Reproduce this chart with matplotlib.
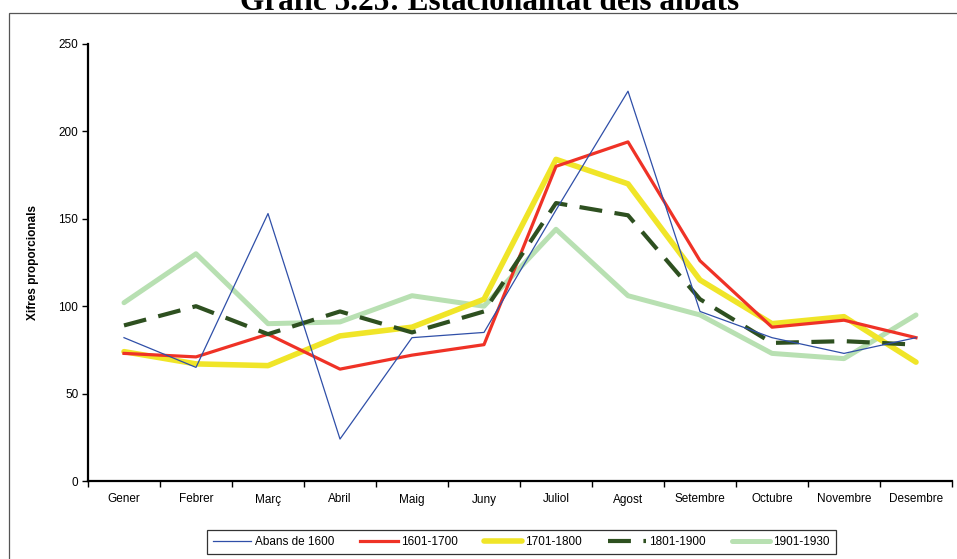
import matplotlib
matplotlib.use("Agg")
import matplotlib.pyplot as plt
from matplotlib.patches import Rectangle

months = ["Gener", "Febrer", "Març", "Abril", "Maig", "Juny", "Juliol",
          "Agost", "Setembre", "Octubre", "Novembre", "Desembre"]

abans_1600 = [82, 65, 153, 24, 82, 85, 155, 223, 97, 82, 73, 82]
s1601_1700 = [73, 71, 84, 64, 72, 78, 180, 194, 126, 88, 92, 82]
s1701_1800 = [74, 67, 66, 83, 88, 104, 184, 170, 115, 90, 94, 68]
s1801_1900 = [89, 100, 84, 97, 85, 97, 159, 152, 104, 79, 80, 78]
s1901_1930 = [102, 130, 90, 91, 106, 100, 144, 106, 95, 73, 70, 95]

y_ticks = [0, 50, 100, 150, 200, 250]

plt.rcParams['font.family'] = ['Liberation Sans', 'DejaVu Sans']

fig = plt.figure(figsize=(9.57, 5.59), dpi=100)

# outer chart frame
fig.patches.append(Rectangle((9 / 957, -0.1), 1.2, 1.1 - 13 / 559,
                             transform=fig.transFigure, fill=False,
                             edgecolor="#555555", linewidth=0.9, zorder=0))

fig.text(490 / 957, 1 - 10 / 559, "Gràfic 5.25: Estacionalitat dels albats",
         ha="center", va="baseline", fontsize=22.5, fontweight="bold",
         family=["Liberation Serif", "DejaVu Serif"])

ax = fig.add_axes([88 / 957, 1 - 481 / 559, 864 / 957, 437 / 559])
x = list(range(len(months)))

ax.plot(x, abans_1600, color="#2f4fa8", lw=0.9, label="Abans de 1600", zorder=5)
ax.plot(x, s1601_1700, color="#ef3226", lw=2.3, label="1601-1700", zorder=3)
ax.plot(x, s1701_1800, color="#f0e528", lw=4.0, label="1701-1800",
        solid_capstyle="round", zorder=2)
ax.plot(x, s1801_1900, color="#2e5020", lw=3.0, label="1801-1900",
        dashes=(5.5, 3.0), zorder=4)
ax.plot(x, s1901_1930, color="#b8e0b2", lw=3.6, label="1901-1930",
        solid_capstyle="round", zorder=1)

ax.set_xlim(-0.5, len(months) - 0.5)
ax.set_ylim(0, 250)
ax.set_yticks(y_ticks)
ax.set_xticks(x)
ax.set_xticklabels(months, fontsize=8.5)
ax.set_xticks([i - 0.5 for i in range(len(months) + 1)], minor=True)
ax.tick_params(axis="x", which="major", length=0, pad=9)
ax.tick_params(axis="x", which="minor", length=4, width=1, direction="out")
ax.tick_params(axis="y", length=4, width=1, direction="out", labelsize=8.5, pad=3)

for side in ("top", "right"):
    ax.spines[side].set_visible(False)
for side in ("left", "bottom"):
    ax.spines[side].set_linewidth(1.6)
    ax.spines[side].set_color("black")

ax.set_ylabel("Xifres proporcionals", fontsize=8.5, fontweight="bold", labelpad=14)

leg = fig.legend(loc="center", bbox_to_anchor=(521.5 / 957, 1 - 542 / 559),
                 ncol=5, fontsize=8.5, frameon=True, fancybox=False,
                 edgecolor="black", handlelength=3.2, handletextpad=0.3,
                 columnspacing=2.2, borderpad=0.5)
leg.get_frame().set_linewidth(0.9)

fig.savefig("out.png", dpi=100)
